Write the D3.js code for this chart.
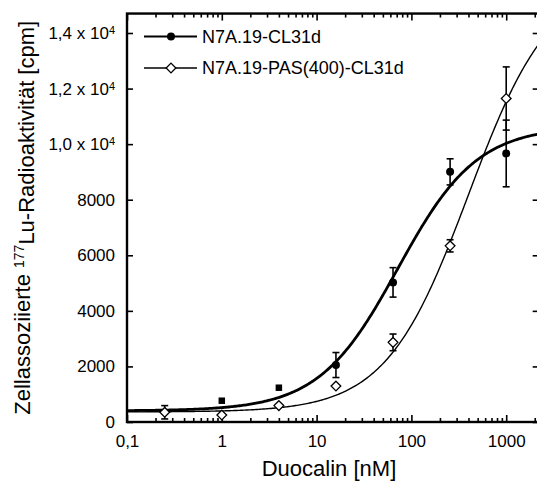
<!DOCTYPE html>
<html><head><meta charset="utf-8">
<script src="https://cdn.jsdelivr.net/npm/d3@7"></script>
<style>
body{margin:0;background:#fff}
svg{display:block}
text{font-family:"Liberation Sans",Arial,Helvetica,sans-serif;fill:#000}
</style>
</head><body>
<svg id="chart" width="537" height="481"></svg>
<script>
// ---------- data ----------
const seriesNames = ["N7A.19-CL31d", "N7A.19-PAS(400)-CL31d"];
const conc1 = [1, 4, 16, 64, 256, 1000];
const cpm1  = [766, 1234, 2050, 5025, 9003, 9665];
const err1  = [0, 0, 450, 530, 470, 1200];
const conc2 = [0.25, 1, 4, 16, 64, 256, 1000];
const cpm2  = [350, 250, 590, 1295, 2866, 6340, 11643];
const err2  = [240, 0, 0, 0, 300, 220, 1137];
// 4-parameter logistic fits: [bottom, top, EC50 (nM), hill]
const fit1 = [400, 10650, 72, 1.04];
const fit2 = [360, 16000, 400, 1.0];
const xTicks = [0.1, 1, 10, 100, 1000];
const xTickLabels = ["0,1", "1", "10", "100", "1000"];
const yTicks = [0, 2000, 4000, 6000, 8000, 10000, 12000, 14000];
const yTickLabels = ["0", "2000", "4000", "6000", "8000", "1,0 x 10", "1,2 x 10", "1,4 x 10"];
const yTickExps   = ["", "", "", "", "", "4", "4", "4"];
const xDomain = [0.1, 2200];
const yDomain = [0, 14700];

// ---------- layout ----------
const svg = d3.select("#chart");
const L = 127, B = 422;
const x = d3.scaleLog().domain(xDomain).range([L, L + 94.8 * Math.log10(xDomain[1] / xDomain[0])]);
const y = d3.scaleLinear().domain(yDomain).range([B, B - 389 / 14000 * yDomain[1]]);
const R = x.range()[1], T = y.range()[1];

const minorX = [];
xTicks.forEach(d => { for (let k = 2; k <= 9; k++) { const v = d * k; if (v <= xDomain[1]) minorX.push(v); } });

function styleAxis(g) {
  g.select(".domain").remove();
  g.selectAll(".tick line").attr("stroke", "#000").attr("stroke-width", 1.6);
}

// bottom axis
const gx = svg.append("g").attr("transform", `translate(0,${B})`)
  .call(d3.axisBottom(x).tickValues(xTicks).tickSize(-7).tickPadding(13)
    .tickFormat((d, i) => xTickLabels[i]));
styleAxis(gx);
gx.selectAll("text").attr("font-size", 17);
const gxm = svg.append("g").attr("transform", `translate(0,${B})`)
  .call(d3.axisBottom(x).tickValues(minorX).tickSize(-4).tickFormat(""));
styleAxis(gxm);
// top axis
const gt = svg.append("g").attr("transform", `translate(0,${T})`)
  .call(d3.axisTop(x).tickValues(xTicks).tickSize(-7).tickFormat(""));
styleAxis(gt);
const gtm = svg.append("g").attr("transform", `translate(0,${T})`)
  .call(d3.axisTop(x).tickValues(minorX).tickSize(-4).tickFormat(""));
styleAxis(gtm);
// left axis
const gy = svg.append("g").attr("transform", `translate(${L},0)`)
  .call(d3.axisLeft(y).tickValues(yTicks).tickSize(-6).tickPadding(12)
    .tickFormat((d, i) => yTickLabels[i]));
styleAxis(gy);
gy.selectAll("text").attr("font-size", 17).each(function (d, i) {
  if (yTickExps[i]) {
    d3.select(this).append("tspan").attr("dy", "-0.45em").attr("font-size", 11).text(yTickExps[i]);
  }
});
// right axis
const gr = svg.append("g").attr("transform", `translate(${R},0)`)
  .call(d3.axisRight(y).tickValues(yTicks).tickSize(-6).tickFormat(""));
styleAxis(gr);

// frame
svg.append("rect").attr("x", L).attr("y", T).attr("width", R - L).attr("height", B - T)
  .attr("fill", "none").attr("stroke", "#000").attr("stroke-width", 2.4);

// ---------- fit curves ----------
const logistic = (p, c) => p[0] + (p[1] - p[0]) / (1 + Math.pow(p[2] / c, p[3]));
const samples = d3.range(0, 301).map(i => xDomain[0] * Math.pow(xDomain[1] / xDomain[0], i / 300));
const line = d3.line().x(d => x(d[0])).y(d => y(d[1]));
svg.append("path").datum(samples.map(c => [c, logistic(fit1, c)]))
  .attr("d", line).attr("fill", "none").attr("stroke", "#000").attr("stroke-width", 2.8);
svg.append("path").datum(samples.map(c => [c, logistic(fit2, c)]))
  .attr("d", line).attr("fill", "none").attr("stroke", "#000").attr("stroke-width", 1.4);

// ---------- error bars ----------
function errorBars(conc, vals, errs) {
  const d = conc.map((c, i) => ({c, v: vals[i], e: errs[i]})).filter(o => o.e > 0);
  const g = svg.append("g").attr("stroke", "#000").attr("stroke-width", 1.6);
  g.selectAll(".v").data(d).join("line")
    .attr("x1", o => x(o.c)).attr("x2", o => x(o.c))
    .attr("y1", o => y(o.v - o.e)).attr("y2", o => y(o.v + o.e));
  g.selectAll(".t").data(d).join("line")
    .attr("x1", o => x(o.c) - 3.5).attr("x2", o => x(o.c) + 3.5)
    .attr("y1", o => y(o.v + o.e)).attr("y2", o => y(o.v + o.e));
  g.selectAll(".b").data(d).join("line")
    .attr("x1", o => x(o.c) - 3.5).attr("x2", o => x(o.c) + 3.5)
    .attr("y1", o => y(o.v - o.e)).attr("y2", o => y(o.v - o.e));
}
errorBars(conc1, cpm1, err1);
errorBars(conc2, cpm2, err2);

// ---------- markers ----------
const sqSym = d3.symbol().type(d3.symbolSquare).size(42);
const circSym = d3.symbol().type(d3.symbolCircle).size(50);
const diaSym = d3.symbol().type(d3.symbolDiamond2).size(60);
svg.append("g").selectAll("path").data(conc1.map((c, i) => [c, cpm1[i]])).join("path")
  .attr("transform", d => `translate(${x(d[0])},${y(d[1])})`)
  .attr("d", d => d[0] < 10 ? sqSym() : circSym())
  .attr("fill", "#000");
svg.append("g").selectAll("path").data(conc2.map((c, i) => [c, cpm2[i]])).join("path")
  .attr("transform", d => `translate(${x(d[0])},${y(d[1])})`)
  .attr("d", diaSym()).attr("fill", "#fff").attr("stroke", "#000").attr("stroke-width", 1.3);

// ---------- legend ----------
const legY = [36.5, 68];
const leg = svg.append("g");
seriesNames.forEach((name, i) => {
  leg.append("line").attr("x1", 144).attr("x2", 197).attr("y1", legY[i]).attr("y2", legY[i])
    .attr("stroke", "#000").attr("stroke-width", i === 0 ? 2 : 1.3);
  leg.append("path").attr("transform", `translate(171,${legY[i]})`)
    .attr("d", i === 0 ? circSym() : diaSym())
    .attr("fill", i === 0 ? "#000" : "#fff").attr("stroke", "#000").attr("stroke-width", i === 0 ? 0 : 1.3);
  leg.append("text").attr("x", 202).attr("y", legY[i]).attr("dy", "0.36em")
    .attr("font-size", 18).text(name);
});

// ---------- axis titles ----------
svg.append("text").attr("x", (L + 537) / 2 - 3).attr("y", 476).attr("text-anchor", "middle")
  .attr("font-size", 22).text("Duocalin [nM]");
const yt = svg.append("text").attr("transform", `translate(30,${(T + B) / 2}) rotate(-90)`)
  .attr("text-anchor", "middle").attr("font-size", 22);
yt.append("tspan").text("Zellassoziierte ");
yt.append("tspan").attr("dy", "-0.45em").attr("font-size", 14).text("177");
yt.append("tspan").attr("dy", "0.45em").text("Lu-Radioaktivität [cpm]");
</script>
</body></html>
